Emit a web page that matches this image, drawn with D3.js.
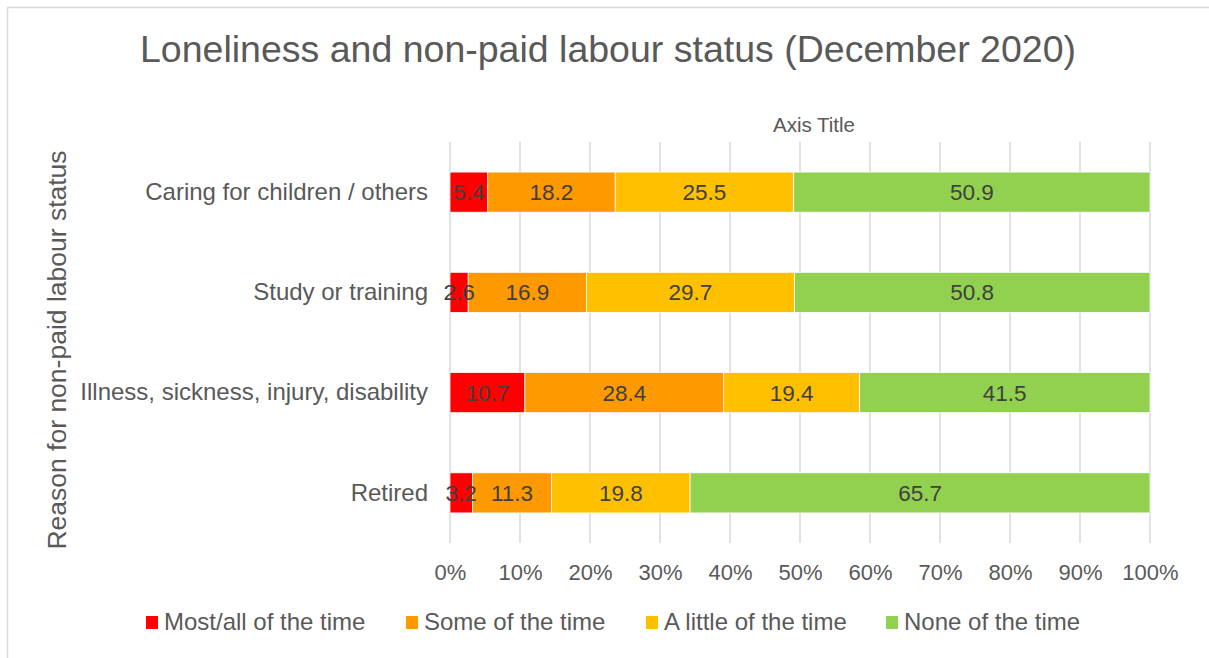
<!DOCTYPE html>
<html>
<head>
<meta charset="utf-8">
<script src="https://cdn.jsdelivr.net/npm/d3@7"></script>
<style>
  body { margin: 0; background: #fff; }
  text { font-family: "Liberation Sans", Arial, sans-serif; }
</style>
</head>
<body>
<div id="chart"></div>
<script>
// --- data ---
const categories = ["Caring for children / others", "Study or training", "Illness, sickness, injury, disability", "Retired"];
const seriesNames = ["Most/all of the time", "Some of the time", "A little of the time", "None of the time"];
const mostAll = [5.4, 2.6, 10.7, 3.2];
const someTime = [18.2, 16.9, 28.4, 11.3];
const littleTime = [25.5, 29.7, 19.4, 19.8];
const noneTime = [50.9, 50.8, 41.5, 65.7];
const xTicks = [0, 10, 20, 30, 40, 50, 60, 70, 80, 90, 100];
const colors = ["#FF0000", "#FF9900", "#FFC000", "#92D050"];

const W = 1209, H = 658;
const margin = { top: 142, right: 59, bottom: 115, left: 450 };
const plotW = W - margin.left - margin.right;
const plotH = H - margin.top - margin.bottom;

const svg = d3.select("#chart").append("svg")
  .attr("width", W).attr("height", H);

// chart border (only top/left visible in the crop)
svg.append("rect")
  .attr("x", 7.5).attr("y", 7.5)
  .attr("width", W + 20).attr("height", H + 20)
  .attr("fill", "none").attr("stroke", "#d9d9d9").attr("stroke-width", 1.5);

svg.append("text")
  .attr("x", 608).attr("y", 62)
  .attr("text-anchor", "middle")
  .attr("font-size", 37.5).attr("fill", "#595959")
  .text("Loneliness and non-paid labour status (December 2020)");

const g = svg.append("g").attr("transform", `translate(${margin.left},${margin.top})`);

const x = d3.scaleLinear().domain([0, 100]).range([0, plotW]);
const y = d3.scaleBand().domain(categories).range([0, plotH]).paddingInner(0.6).paddingOuter(0.3);

// gridlines
g.append("g").selectAll("line").data(xTicks).join("line")
  .attr("x1", d => x(d)).attr("x2", d => x(d))
  .attr("y1", 0).attr("y2", plotH)
  .attr("stroke", "#d9d9d9").attr("stroke-width", 1.5);

// x axis labels
const xAxis = d3.axisBottom(x).tickValues(xTicks).tickFormat(d => d + "%").tickSize(0).tickPadding(0);
const xg = g.append("g").attr("transform", `translate(0,${plotH})`).call(xAxis);
xg.select(".domain").remove();
xg.selectAll("text").attr("font-size", 22).attr("fill", "#595959")
  .attr("font-family", "Liberation Sans, Arial, sans-serif")
  .attr("dy", null).attr("y", 37);

// y axis labels
const yAxis = d3.axisLeft(y).tickSize(0).tickPadding(22);
const yg = g.append("g").call(yAxis);
yg.select(".domain").remove();
yg.selectAll("text").attr("font-size", 24).attr("fill", "#595959")
  .attr("font-family", "Liberation Sans, Arial, sans-serif");

// stacked bars
const rows = categories.map((c, i) => ({
  cat: c,
  [seriesNames[0]]: mostAll[i],
  [seriesNames[1]]: someTime[i],
  [seriesNames[2]]: littleTime[i],
  [seriesNames[3]]: noneTime[i]
}));
const stacked = d3.stack().keys(seriesNames)(rows);

g.append("g").selectAll("g").data(stacked).join("g")
  .attr("fill", (d, i) => colors[i])
  .selectAll("rect").data(d => d).join("rect")
  .attr("x", d => x(d[0]))
  .attr("y", d => y(d.data.cat))
  .attr("width", d => x(d[1]) - x(d[0]))
  .attr("height", y.bandwidth())
  .attr("stroke", "#fff").attr("stroke-width", 0.75);

// data labels on top of all segments
g.append("g").selectAll("g").data(stacked).join("g")
  .selectAll("text").data(d => d).join("text")
  .attr("x", d => (x(d[0]) + x(d[1])) / 2)
  .attr("y", d => y(d.data.cat) + y.bandwidth() / 2)
  .attr("dy", "0.35em")
  .attr("text-anchor", "middle")
  .attr("font-size", 22.5).attr("fill", "#404040")
  .text(d => (d[1] - d[0]).toFixed(1));

// axis titles
svg.append("text")
  .attr("x", 814).attr("y", 132)
  .attr("text-anchor", "middle")
  .attr("font-size", 20.5).attr("fill", "#595959")
  .text("Axis Title");

svg.append("text")
  .attr("transform", "translate(66,350) rotate(-90)")
  .attr("text-anchor", "middle")
  .attr("font-size", 26.5).attr("fill", "#595959")
  .text("Reason for non-paid labour status");

// legend
const legendX = [146, 406, 646, 886];
const legend = svg.append("g").selectAll("g").data(seriesNames).join("g")
  .attr("transform", (d, i) => `translate(${legendX[i]},616)`);
legend.append("rect").attr("width", 12).attr("height", 13).attr("fill", (d, i) => colors[i]);
legend.append("text").attr("x", 18).attr("y", 14)
  .attr("font-size", 24).attr("fill", "#595959").text(d => d);
</script>
</body>
</html>
